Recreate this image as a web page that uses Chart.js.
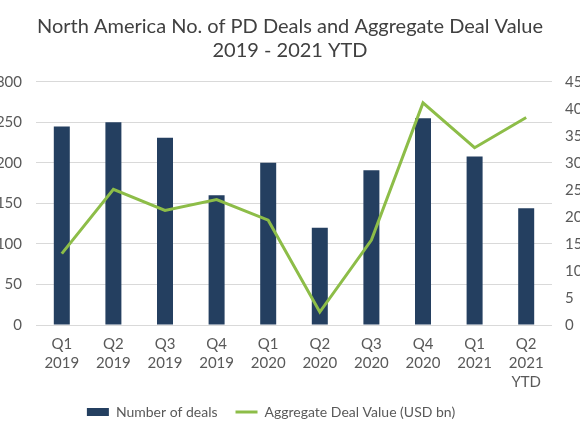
<!DOCTYPE html>
<html>
<head>
<meta charset="utf-8">
<script src="https://cdn.jsdelivr.net/npm/chart.js@4"></script>
<style>
  html, body { margin: 0; padding: 0; background: #fff; }
  #wrap { width: 580px; height: 435px; }
</style>
</head>
<body>
<div id="wrap"><canvas id="deals" width="580" height="435"></canvas></div>
<script>
// ─── Data ───
const quarters = [
    ['Q1', '2019'], ['Q2', '2019'], ['Q3', '2019'], ['Q4', '2019'],
    ['Q1', '2020'], ['Q2', '2020'], ['Q3', '2020'], ['Q4', '2020'],
    ['Q1', '2021'], ['Q2', '2021', 'YTD']
];
const dealCounts = [245, 250, 231, 160, 200, 120, 191, 255, 208, 144];
const dealValues = [13.2, 25.1, 21.2, 23.2, 19.4, 2.4, 15.7, 41.1, 32.8, 38.4];
const leftTicks = [0, 50, 100, 150, 200, 250, 300];
const rightTicks = [0, 5, 10, 15, 20, 25, 30, 35, 40, 45];

const COLORS = {
    bar: '#243f60',
    line: '#8dbd48',
    grid: '#d9d9d9',
    text: '#595959',
    title: '#404040'
};
const FONT = 'Lato';

// legend sits a little left of centre in the original
const legendShift = {
    id: 'legendShift',
    afterLayout(chart) {
        if (chart.legend) {
            chart.legend.left -= 19;
            chart.legend.right -= 19;
        }
    }
};

const ctx = document.getElementById('deals').getContext('2d');
new Chart(ctx, {
    type: 'bar',
    data: {
        labels: quarters,
        datasets: [
            {
                type: 'line',
                label: 'Aggregate Deal Value (USD bn)',
                data: dealValues,
                yAxisID: 'y1',
                borderColor: COLORS.line,
                backgroundColor: COLORS.line,
                borderWidth: 3,
                pointRadius: 0,
                tension: 0
            },
            {
                type: 'bar',
                label: 'Number of deals',
                data: dealCounts,
                yAxisID: 'y',
                backgroundColor: COLORS.bar,
                borderColor: COLORS.bar,
                borderWidth: 0,
                barPercentage: 0.31,
                categoryPercentage: 1
            }
        ]
    },
    plugins: [legendShift],
    options: {
        responsive: false,
        animation: false,
        layout: { padding: { left: 0, right: 0, top: 0, bottom: 6 } },
        plugins: {
            tooltip: { enabled: false },
            title: {
                display: true,
                text: ['North America No. of PD Deals and Aggregate Deal Value', '2019 - 2021 YTD'],
                color: COLORS.title,
                font: { family: FONT, size: 20, weight: 'normal', lineHeight: 1.22 },
                padding: { top: 14, bottom: 19 }
            },
            legend: {
                position: 'bottom',
                reverse: true,
                labels: {
                    color: COLORS.text,
                    font: { family: FONT, size: 14 },
                    usePointStyle: true,
                    pointStyleWidth: 22,
                    boxHeight: 8,
                    padding: 18,
                    generateLabels: chart => Chart.defaults.plugins.legend.labels.generateLabels(chart).map(l => ({
                        ...l,
                        pointStyle: l.datasetIndex === 1 ? 'rect' : 'line',
                        lineWidth: l.datasetIndex === 1 ? 0 : 3
                    }))
                }
            }
        },
        scales: {
            x: {
                afterFit: s => { s.height = 62; },
                grid: { display: false, drawTicks: false },
                border: { display: false },
                ticks: {
                    color: COLORS.text,
                    font: { family: FONT, size: 15, lineHeight: 1.27 },
                    padding: 10,
                    maxRotation: 0,
                    autoSkip: false
                }
            },
            y: {
                position: 'left',
                min: 0,
                max: 300,
                afterFit: s => { s.width = 36; },
                afterBuildTicks: s => { s.ticks = leftTicks.map(v => ({ value: v })); },
                grid: { color: COLORS.grid, lineWidth: 1, drawTicks: false },
                border: { display: false },
                ticks: {
                    color: COLORS.text,
                    font: { family: FONT, size: 15 },
                    padding: 14
                }
            },
            y1: {
                position: 'right',
                min: 0,
                max: 45,
                afterFit: s => { s.width = 28; },
                afterBuildTicks: s => { s.ticks = rightTicks.map(v => ({ value: v })); },
                grid: { drawOnChartArea: false, drawTicks: false },
                border: { display: false },
                ticks: {
                    color: COLORS.text,
                    font: { family: FONT, size: 15 },
                    padding: 13
                }
            }
        }
    }
});
</script>
</body>
</html>
